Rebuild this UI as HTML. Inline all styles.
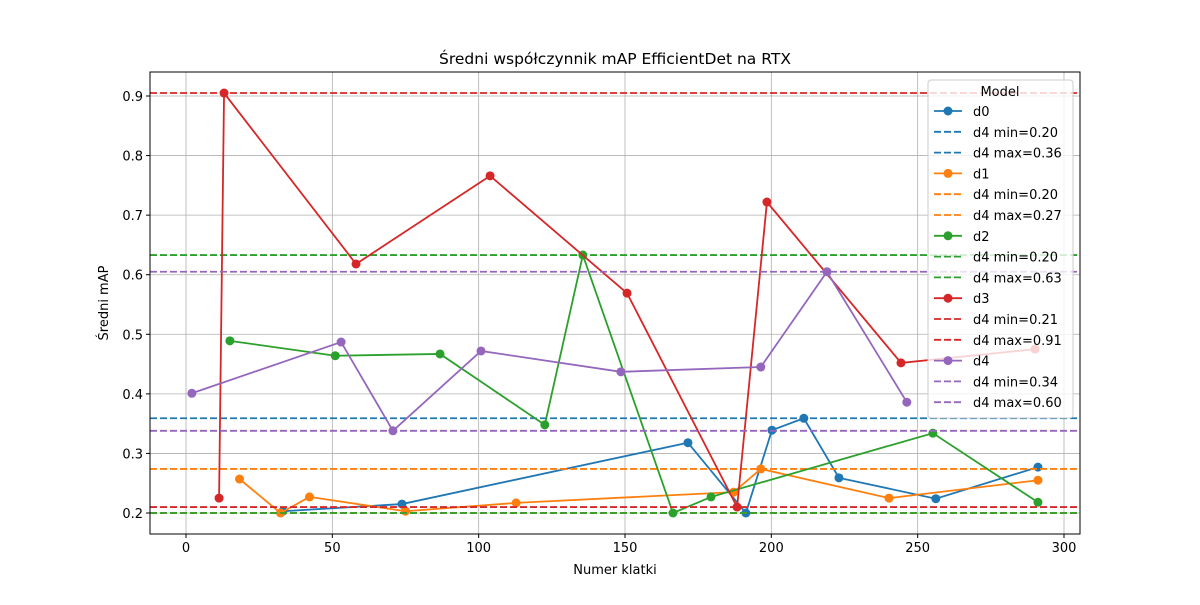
<!DOCTYPE html>
<html><head><meta charset="utf-8"><style>body{margin:0;background:#fff}svg{font-family:"DejaVu Sans","Liberation Sans",sans-serif}</style></head>
<body>
<svg id="c" width="1200" height="600" xmlns="http://www.w3.org/2000/svg"></svg>
<script>
const names=["d0","d1","d2","d3","d4"];
const colors=["#1f77b4","#ff7f0e","#2ca02c","#d62728","#9467bd"];
const xs=[
[33.1,73.8,171.5,191.3,200.2,211.1,223.1,256.2,291.1],
[18.3,32.3,42.2,75,112.8,187.1,196.4,240.2,291.1],
[15,51,86.8,122.6,135.6,166.4,179.4,255.2,291.1],
[11.3,13,58.1,103.9,150.7,188.3,198.5,244.3,290.1],
[2,53,70.7,100.8,148.6,196.4,219,246.3]];
const ys=[
[0.203,0.215,0.318,0.200,0.339,0.359,0.259,0.224,0.277],
[0.257,0.200,0.227,0.203,0.217,0.235,0.274,0.225,0.255],
[0.489,0.464,0.467,0.348,0.633,0.200,0.227,0.334,0.218],
[0.225,0.905,0.618,0.766,0.569,0.210,0.722,0.452,0.475],
[0.401,0.487,0.338,0.472,0.437,0.445,0.605,0.386]];
const mins=[0.20,0.20,0.20,0.21,0.338];
const maxs=[0.359,0.274,0.633,0.905,0.605];
const minLabels=["0.20","0.20","0.20","0.21","0.34"];
const maxLabels=["0.36","0.27","0.63","0.91","0.60"];
const xticks=[0,50,100,150,200,250,300];
const yticks=[0.2,0.3,0.4,0.5,0.6,0.7,0.8,0.9];
const L=150,R=1080,T=72,B=534;
const X=v=>186+v*(878/300);
const Y=v=>513-(v-0.2)*(417/0.7);
const svg=document.getElementById('c');
const NS="http://www.w3.org/2000/svg";
function mk(tag,a,parent){const e=document.createElementNS(NS,tag);for(const k in a)e.setAttribute(k,a[k]);(parent||svg).appendChild(e);return e;}
xticks.forEach(t=>{const g=mk('line',{x1:X(t),x2:X(t),y1:T,y2:B,stroke:'#b0b0b0','stroke-width':0.8});


mk('line',{x1:X(t),x2:X(t),y1:B,y2:B+4,stroke:'#000'});
const tx=mk('text',{x:X(t),y:B+18,'font-size':13,'text-anchor':'middle'});tx.textContent=t;

});
yticks.forEach(t=>{const g=mk('line',{x1:L,x2:R,y1:Y(t),y2:Y(t),stroke:'#b0b0b0','stroke-width':0.8});


mk('line',{x1:L-4,x2:L,y1:Y(t),y2:Y(t),stroke:'#000'});
const tx=mk('text',{x:L-7,y:Y(t)+5,'font-size':13,'text-anchor':'end'});tx.textContent=t.toFixed(1);

});
names.forEach((n,i)=>{
 const pts=xs[i].map((x,j)=>X(x)+','+Y(ys[i][j])).join(' ');
 const pl=mk('polyline',{points:pts,fill:'none',stroke:colors[i],'stroke-width':1.8});
 
 
 xs[i].forEach((x,j)=>{const c=mk('circle',{cx:X(x),cy:Y(ys[i][j]),r:4.5,fill:colors[i]});
 
 });
 [mins[i],maxs[i]].forEach((v,k)=>{const h=mk('line',{x1:L,x2:R,y1:Y(v),y2:Y(v),stroke:colors[i],'stroke-width':1.8,'stroke-dasharray':'7,3'});
 
 });
});
const fr=mk('rect',{x:L,y:T,width:R-L,height:B-T,fill:'none',stroke:'#000','stroke-width':1});


let t=mk('text',{x:615,y:64,'font-size':15.5,'text-anchor':'middle'});t.textContent='Średni współczynnik mAP EfficientDet na RTX';


t=mk('text',{x:615,y:574,'font-size':13,'text-anchor':'middle'});t.textContent='Numer klatki';


t=mk('text',{x:108,y:303,'font-size':13,'text-anchor':'middle',transform:'rotate(-90 108 303)'});t.textContent='Średni mAP';


const lg=mk('g',{});


mk('rect',{x:928,y:80,width:145,height:338,rx:3,fill:'#fff','fill-opacity':0.8,stroke:'#ccc'},lg);
t=mk('text',{x:1000,y:96,'font-size':13,'text-anchor':'middle'},lg);t.textContent='Model';
let yy=111;
names.forEach((n,i)=>{
 const rows=[[n,0],['d4 min='+minLabels[i],1],['d4 max='+maxLabels[i],1]];
 rows.forEach(r=>{
  const e=mk('g',{},lg);
  
  
  mk('line',{x1:934,x2:962,y1:yy,y2:yy,stroke:colors[i],'stroke-width':1.8,'stroke-dasharray':r[1]?'7,3':'none'},e);
  if(!r[1])mk('circle',{cx:948,cy:yy,r:4.5,fill:colors[i]},e);
  const tt=mk('text',{x:973,y:yy+5,'font-size':13},e);tt.textContent=r[0];
  yy+=20.8;
 });
});
</script>
</body></html>
